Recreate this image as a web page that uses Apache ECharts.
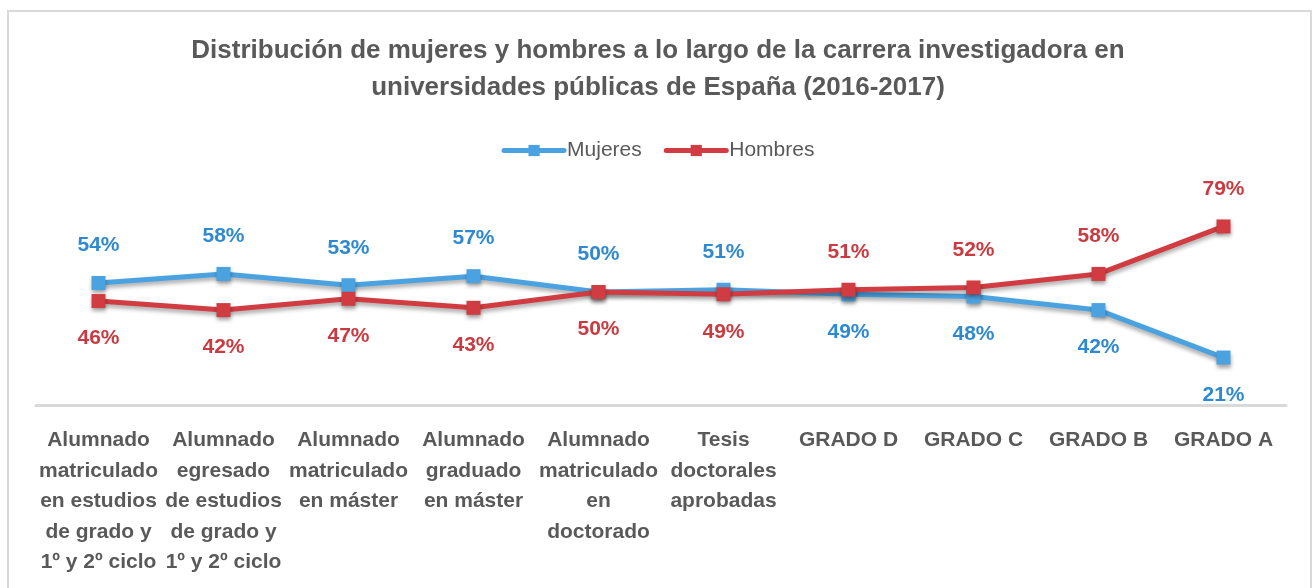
<!DOCTYPE html>
<html>
<head>
<meta charset="utf-8">
<script src="https://cdn.jsdelivr.net/npm/echarts@6/dist/echarts.min.js"></script>
<style>
  html, body { margin: 0; padding: 0; background: #fff; }
  #frame {
    position: absolute;
    left: 7px; top: 10px;
    width: 1305px; height: 590px;
    border: 2px solid #d9d9d9;
    box-sizing: border-box;
  }
  #chart { position: absolute; left: 0; top: 0; width: 1316px; height: 588px; }
</style>
</head>
<body>
<div id="frame"></div>
<div id="chart"></div>
<script>
  // categorias del eje X
  var categorias = [
    'Alumnado\nmatriculado\nen estudios\nde grado y\n1º y 2º ciclo',
    'Alumnado\negresado\nde estudios\nde grado y\n1º y 2º ciclo',
    'Alumnado\nmatriculado\nen máster',
    'Alumnado\ngraduado\nen máster',
    'Alumnado\nmatriculado\nen\ndoctorado',
    'Tesis\ndoctorales\naprobadas',
    'GRADO D',
    'GRADO C',
    'GRADO B',
    'GRADO A'
  ];
  // porcentajes
  var mujeres = [54, 58, 53, 57, 50, 51, 49, 48, 42, 21];
  var hombres = [46, 42, 47, 43, 50, 49, 51, 52, 58, 79];

  var font = '"Liberation Sans Narrow", "Arial Narrow", "Liberation Sans", sans-serif';
  var blue = '#4ba2e0', blueText = '#2f89d0';
  var red = '#d03c41', redText = '#c93b40';

  // etiqueta arriba para la serie mayor, abajo para la menor
  function buildData(values, other, isMujeres) {
    return values.map(function (v, i) {
      var top = isMujeres ? v >= other[i] : v > other[i];
      return { value: v, label: { position: top ? 'top' : 'bottom' } };
    });
  }

  var lineShadow = {
    shadowColor: 'rgba(0,0,0,0.35)',
    shadowBlur: 4,
    shadowOffsetY: 3
  };

  var option = {
    animation: false,
    textStyle: { fontFamily: font },
    title: {
      text: 'Distribución de mujeres y hombres a lo largo de la carrera investigadora en\nuniversidades públicas de España (2016-2017)',
      left: 'center',
      top: 27,
      textStyle: {
        fontFamily: font,
        fontSize: 26,
        fontWeight: 'bold',
        color: '#595959',
        lineHeight: 37
      }
    },
    legend: {
      top: 135,
      left: 'center',
      itemWidth: 60,
      itemHeight: 14,
      itemGap: 22,
      lineStyle: { width: 5, cap: 'round' },
      textStyle: { fontFamily: font, fontSize: 21, color: '#595959', padding: [0, 0, 0, -2] },
      data: ['Mujeres', 'Hombres']
    },
    grid: { left: 36, right: 30, top: 179, bottom: 183, containLabel: false },
    xAxis: {
      type: 'category',
      data: categorias,
      axisLine: { lineStyle: { color: '#d9d9d9', width: 3 } },
      axisTick: { show: false },
      axisLabel: {
        interval: 0,
        margin: 20,
        fontFamily: font,
        fontSize: 21,
        fontWeight: 'bold',
        color: '#595959',
        lineHeight: 30.5
      }
    },
    yAxis: {
      type: 'value',
      min: 0,
      max: 100,
      show: false,
      splitLine: { show: false }
    },
    series: [
      {
        name: 'Mujeres',
        type: 'line',
        data: buildData(mujeres, hombres, true),
        symbol: 'rect',
        symbolSize: 14,
        lineStyle: Object.assign({ color: blue, width: 5 }, lineShadow),
        itemStyle: Object.assign({ color: blue }, lineShadow),
        label: {
          show: true,
          distance: 20,
          formatter: '{c}%',
          fontFamily: font,
          fontSize: 21,
          fontWeight: 'bold',
          color: blueText
        },
        z: 2
      },
      {
        name: 'Hombres',
        type: 'line',
        data: buildData(hombres, mujeres, false),
        symbol: 'rect',
        symbolSize: 14,
        lineStyle: Object.assign({ color: red, width: 5 }, lineShadow),
        itemStyle: Object.assign({ color: red }, lineShadow),
        label: {
          show: true,
          distance: 20,
          formatter: '{c}%',
          fontFamily: font,
          fontSize: 21,
          fontWeight: 'bold',
          color: redText
        },
        z: 3
      }
    ]
  };

  var myChart = echarts.init(document.getElementById('chart'), null, { renderer: 'canvas' });
  myChart.setOption(option);
</script>
</body>
</html>
